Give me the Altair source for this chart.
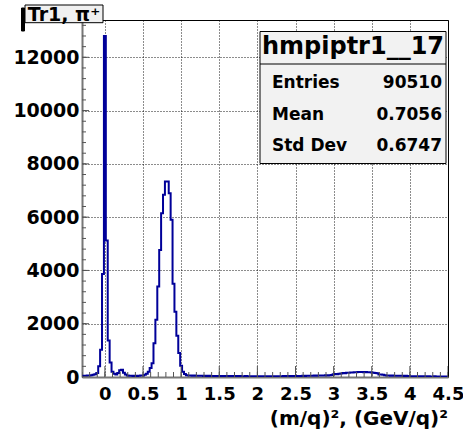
import altair as alt
import numpy as np
import pandas as pd

# ---- histogram data (bin width 0.025, first bin centre -0.3) ----
bin_lo = -0.3
bin_w = 0.025
counts = [
    40, 50, 45, 60, 55, 70, 80,
    100, 150, 400, 1020, 3870,
    12800, 5120, 1370, 540, 200, 120, 90, 150, 250, 270, 160, 90,
    60, 50, 45, 40, 45, 40, 50, 55,
    60, 80, 120, 200, 340, 520, 1270, 2150, 3400, 4770, 6150, 6840, 7340, 7340,
    6900, 5900, 3500, 2450, 1550, 900, 420, 200, 110, 70,
    60, 55, 50, 55, 50, 45, 50, 45, 40, 45, 40, 45, 40, 35, 40, 35, 40,
    35, 40, 35, 30, 35, 40, 35, 30, 35, 30, 35, 30, 30, 35, 30, 25, 30, 30, 25, 30,
    30, 25, 30, 25, 30, 25, 30, 30, 25, 30, 25, 30, 30, 35, 30, 35, 30, 35, 40, 35,
    40, 35, 40, 45, 40, 45, 50, 45, 50, 55, 50, 55, 60, 55, 60, 65, 60, 70, 75,
    100, 110, 105, 120, 130, 150, 145, 160, 155,
    170, 165, 180, 175, 190, 185, 190, 180, 185, 175, 180, 170, 160, 150, 140,
    95, 90, 80, 70, 60, 55, 50, 55, 50, 45, 50, 45,
    45, 40, 45, 40, 30, 30, 25, 30, 25, 30, 25, 20, 25, 20, 25, 20, 20, 25, 20, 15, 20, 15, 20, 15, 15,
]
centers = np.round(bin_lo + bin_w * np.arange(len(counts)), 4)

x_ticks_major = [0, 0.5, 1, 1.5, 2, 2.5, 3, 3.5, 4, 4.5]
x_ticks_minor = [round(-0.3 + 0.1 * k, 2) for k in range(49)]
y_ticks_major = [0, 2000, 4000, 6000, 8000, 10000, 12000]
y_ticks_minor = [400 * k for k in range(34)]

title_text = "Tr1, π⁺"
stats_title = "hmpiptr1__17"
stat_names = ["Entries", "Mean", "Std Dev"]
stat_values = ["90510", "0.7056", "0.6747"]
x_title = "(m/q)², (GeV/q)²"

X_DOM = [-0.3, 4.5]
Y_DOM = [0, 13400]
W, H = 366, 357
FONT = "DejaVu Sans"
LINE = "#000099"

xs = alt.Scale(domain=X_DOM, nice=False, zero=False)
ys = alt.Scale(domain=Y_DOM, nice=False)

x_axis = alt.Axis(
    values=x_ticks_major, format="~g", title=None, ticks=False,
    labelFont=FONT, labelFontWeight="bold", labelFontSize=18, labelColor="black",
    labelPadding=8, labelFlush=False, labelOverlap=False,
    grid=True, gridDash=[1, 2], gridColor="black", gridOpacity=0.9,
    domainColor="#777", domainWidth=2)
y_axis = alt.Axis(
    values=y_ticks_major, format="d", title=None, ticks=False,
    labelFont=FONT, labelFontWeight="bold", labelFontSize=19, labelColor="black",
    labelPadding=3, labelFlush=False, labelOverlap=False,
    grid=True, gridDash=[1, 2], gridColor="black", gridOpacity=0.9,
    domainColor="#777", domainWidth=2)

df = pd.DataFrame({"x": centers, "n": counts})

hist = alt.Chart(df).mark_line(interpolate="step", color=LINE, strokeWidth=2, clip=True).encode(
    x=alt.X("x:Q", scale=xs, axis=x_axis),
    y=alt.Y("n:Q", scale=ys, axis=y_axis),
)


def tick_layer(vals, axis, length):
    d = pd.DataFrame({"x": vals, "n": vals})
    if axis == "x":
        enc = dict(x=alt.X("x:Q", scale=xs, axis=x_axis), y=alt.value(H), y2=alt.value(H - length))
    else:
        enc = dict(y=alt.Y("n:Q", scale=ys, axis=y_axis), x=alt.value(0), x2=alt.value(length))
    return alt.Chart(d).mark_rule(color="#555", strokeWidth=1, clip=True).encode(**enc)


def text_layer(txt, x, y, size, align="left"):
    return alt.Chart(alt.Data(values=[{"t": txt}])).mark_text(
        align=align, baseline="alphabetic", font=FONT, fontWeight="bold",
        fontSize=size, color="black").encode(x=alt.value(x), y=alt.value(y), text="t:N")


def box_layer(x1, x2, y1, y2, fill, stroke="black"):
    return alt.Chart(alt.Data(values=[{}])).mark_rect(fill=fill, stroke=stroke, strokeWidth=1).encode(
        x=alt.value(x1), x2=alt.value(x2), y=alt.value(y1), y2=alt.value(y2))


layers = [
    hist,
    tick_layer(x_ticks_minor, "x", 5),
    tick_layer(x_ticks_major, "x", 11),
    tick_layer(y_ticks_minor, "y", 4),
    tick_layer(y_ticks_major, "y", 7),
    # stats box
    box_layer(178, 364, 11.5, 143.5, "#f2f2f2"),
    alt.Chart(alt.Data(values=[{}])).mark_rule(color="black", strokeWidth=1).encode(
        x=alt.value(178), x2=alt.value(364), y=alt.value(44)),
    text_layer(stats_title, 271, 33.5, 24, "center"),
]
for k, (nm, val) in enumerate(zip(stat_names, stat_values)):
    yb = 68 + k * 31.5
    layers.append(text_layer(nm, 190, yb, 17, "left"))
    layers.append(text_layer(val, 360, yb, 17, "right"))

# title pave
layers += [
    box_layer(-60.5, -57.5, -12, 11, "black", "black"),
    box_layer(-57, 21, -15, 2.7, "#f0f0f0"),
    text_layer(title_text, -18, 0.5, 19, "center"),
    text_layer(x_title, 366, 405, 20, "right"),
]

chart = alt.layer(*layers).properties(
    width=W, height=H,
    autosize=alt.AutoSizeParams(type="none"),
    padding={"left": 82, "top": 20, "right": 15, "bottom": 56},
    background="white",
).configure_view(stroke="black", strokeWidth=1)

chart.save("out.html", embed_options={"renderer": "svg", "actions": False})
